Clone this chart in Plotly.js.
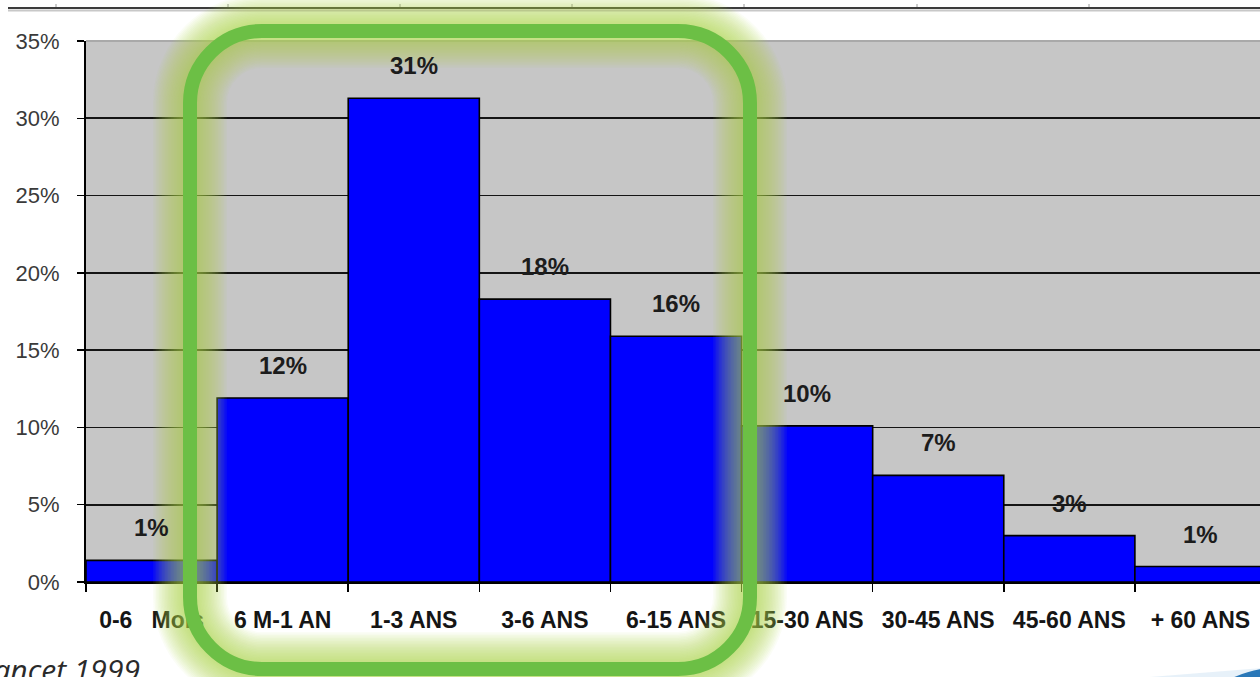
<!DOCTYPE html>
<html>
<head>
<meta charset="utf-8">
<script src="https://cdn.plot.ly/plotly-3.0.1.min.js"></script>
<style>
  html, body { margin: 0; padding: 0; background: #ffffff; overflow: hidden; }
  #chart { width: 1260px; height: 677px; }
</style>
</head>
<body>
<div id="chart"></div>
<script>
// Age groups and their share of cases (%)
const categories = ['0-6\u00a0\u00a0\u00a0Mois', '6 M-1 AN', '1-3 ANS', '3-6 ANS', '6-15 ANS',
                    '15-30 ANS', '30-45 ANS', '45-60 ANS', '+ 60 ANS'];
const shares = [1.4, 11.9, 31.3, 18.3, 15.9, 10.1, 6.9, 3.0, 1.0];
const yTickValues = [0, 5, 10, 15, 20, 25, 30, 35];
const yTickLabels = ['0%', '5%', '10%', '15%', '20%', '25%', '30%', '35%'];
const sourceNote = 'Lancet 1999';

// Plot area geometry (pixels)
const W = 1260, H = 677;
const M = { l: 86, r: 0, t: 41, b: 95 };
const plotW = W - M.l - M.r, plotH = H - M.t - M.b;
const px = x => (x - M.l) / plotW;          // page pixel -> paper x
const py = y => (H - M.b - y) / plotH;      // page pixel -> paper y

// Rounded rectangle outline as a cubic-bezier path in paper units
function roundRect(x0, y0, x1, y1, r) {
  const k = 0.5523 * r;
  const P = (x, y) => px(x).toFixed(5) + ',' + py(y).toFixed(5);
  return 'M' + P(x0 + r, y0) +
    ' L' + P(x1 - r, y0) +
    ' C' + P(x1 - r + k, y0) + ' ' + P(x1, y0 + r - k) + ' ' + P(x1, y0 + r) +
    ' L' + P(x1, y1 - r) +
    ' C' + P(x1, y1 - r + k) + ' ' + P(x1 - r + k, y1) + ' ' + P(x1 - r, y1) +
    ' L' + P(x0 + r, y1) +
    ' C' + P(x0 + r - k, y1) + ' ' + P(x0, y1 - r + k) + ' ' + P(x0, y1 - r) +
    ' L' + P(x0, y0 + r) +
    ' C' + P(x0, y0 + r - k) + ' ' + P(x0 + r - k, y0) + ' ' + P(x0 + r, y0) + ' Z';
}

const ringPath = roundRect(190, 31, 750, 669, 72);

const shapes = [];

// header rule across the top of the page
shapes.push({ type: 'line', xref: 'paper', yref: 'paper', x0: px(8), x1: px(1262), y0: py(10.5), y1: py(10.5),
  line: { color: '#c8c8c8', width: 2 }, layer: 'above' });
shapes.push({ type: 'line', xref: 'paper', yref: 'paper', x0: px(8), x1: px(1262), y0: py(8), y1: py(8),
  line: { color: '#3c3c3c', width: 2 }, layer: 'above' });
[56, 228, 400, 572, 744, 917, 1089].forEach(x => {
  shapes.push({ type: 'line', xref: 'paper', yref: 'paper', x0: px(x), x1: px(x), y0: py(4), y1: py(7),
    line: { color: '#9a9a9a', width: 1 }, layer: 'above' });
});

// light border along the top of the plot area
shapes.push({ type: 'line', xref: 'paper', yref: 'paper', x0: 0, x1: 1, y0: 1, y1: 1,
  line: { color: '#a9a9a9', width: 2 }, layer: 'above' });

// soft glow around the highlight frame: many faint strokes of decreasing width
for (let w = 74; w >= 16; w -= 3) {
  shapes.push({ type: 'path', xref: 'paper', yref: 'paper', path: ringPath,
    line: { color: 'rgba(180,224,80,0.05)', width: w }, fillcolor: 'rgba(0,0,0,0)', layer: 'above' });
}
// highlight frame
shapes.push({ type: 'path', xref: 'paper', yref: 'paper', path: ringPath,
  line: { color: '#6cbf45', width: 14 }, fillcolor: 'rgba(0,0,0,0)', layer: 'above' });

// small logo swoosh, bottom right corner
shapes.push({ type: 'path', xref: 'paper', yref: 'paper',
  path: 'M' + px(1150) + ',' + py(677) + ' Q' + px(1210) + ',' + py(672) + ' ' + px(1262) + ',' + py(668) +
        ' L' + px(1262) + ',' + py(680) + ' Z',
  line: { width: 0 }, fillcolor: 'rgba(225,238,248,0.8)', layer: 'above' });
shapes.push({ type: 'path', xref: 'paper', yref: 'paper',
  path: 'M' + px(1232) + ',' + py(678) + ' Q' + px(1248) + ',' + py(671) + ' ' + px(1262) + ',' + py(669) +
        ' L' + px(1262) + ',' + py(680) + ' Z',
  line: { width: 0 }, fillcolor: '#2a78b8', layer: 'above' });

// value labels above each bar
const annotations = categories.map((c, i) => ({
  x: c, y: shares[i], xref: 'x', yref: 'y',
  text: Math.round(shares[i]) + '%',
  showarrow: false, yanchor: 'bottom', yshift: 17,
  font: { family: 'Liberation Sans, Arial, sans-serif', size: 24, color: '#1c1c1c', weight: 'bold' }
}));

// source note, bottom left (runs off the page edge)
annotations.push({
  xref: 'paper', yref: 'paper', x: px(142), y: py(647), xanchor: 'right', yanchor: 'top',
  text: '<i>' + sourceNote + '</i>', showarrow: false,
  font: { family: 'Open Sans, Noto Sans, sans-serif', size: 30, color: '#2a2a2a', style: 'italic' }
});

const trace = {
  type: 'bar',
  x: categories,
  y: shares,
  marker: { color: '#0000ff', line: { color: '#000000', width: 1.6 } },
  hoverinfo: 'skip'
};

const layout = {
  width: W, height: H,
  margin: M,
  paper_bgcolor: '#ffffff',
  plot_bgcolor: '#c6c6c6',
  bargap: 0,
  showlegend: false,
  font: { family: 'Liberation Sans, Arial, sans-serif' },
  xaxis: {
    type: 'category',
    range: [-0.5, 8.5 - 6 / 131],
    showgrid: false,
    showline: true, linecolor: '#000000', linewidth: 2,
    ticks: 'outside', tickson: 'boundaries', ticklen: 8, tickwidth: 1.5, tickcolor: '#000000',
    ticklabelstandoff: 16,
    tickfont: { family: 'Liberation Sans, Arial, sans-serif', size: 23, color: '#151515', weight: 'bold' },
    fixedrange: true
  },
  yaxis: {
    range: [0, 35],
    tickvals: yTickValues,
    ticktext: yTickLabels,
    showgrid: true, gridcolor: '#141414', gridwidth: 1.6,
    zeroline: false,
    showline: true, linecolor: '#000000', linewidth: 2,
    ticks: 'outside', ticklen: 7, tickwidth: 1.5, tickcolor: '#000000',
    ticklabelstandoff: 13,
    tickfont: { family: 'Liberation Sans, Arial, sans-serif', size: 22, color: '#3a3a3a' },
    fixedrange: true
  },
  shapes: shapes,
  annotations: annotations
};

Plotly.newPlot('chart', [trace], layout, { staticPlot: true, displayModeBar: false });
</script>
</body>
</html>
